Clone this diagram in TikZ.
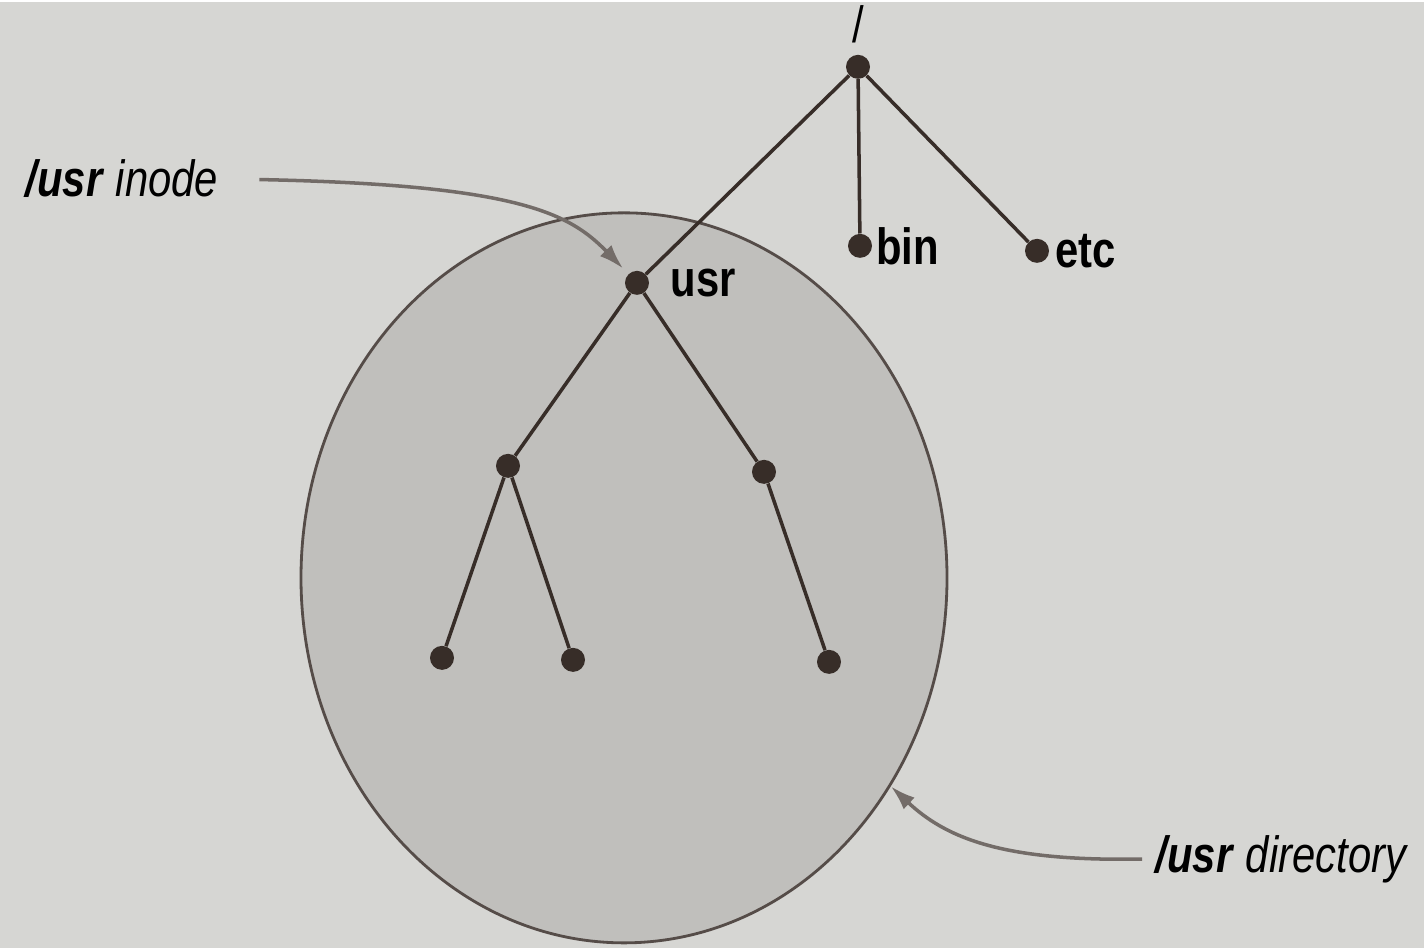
\documentclass[tikz,border=0pt]{standalone}
\usepackage{fontspec}
\setmainfont{Liberation Sans}[FakeStretch=0.82]
\usetikzlibrary{arrows.meta, shapes}
\definecolor{papier}{RGB}{214,214,211}
\definecolor{blase}{RGB}{192,191,188}
\definecolor{linie}{RGB}{55,45,40}

\begin{document}
\begin{tikzpicture}[x=0.2mm, y=-0.2mm,
			punkt/.style={circle, fill=linie, inner sep=0pt, minimum size=4.8mm},
			kante/.style={draw=linie, line width=2pt},
			zeiger/.style={draw=linie!70, line width=2pt, ->},
			>={Latex[length=5mm, width=3.2mm]},   %Pfeilspitzen
			font=\fontsize{29}{32}\selectfont]
			%Hintergrund
			\fill[papier] (0,0) rectangle (1424,946);
			%Verzeichnis als Blase
			\node[ellipse, draw=linie!85, line width=1.6pt, fill=blase, minimum width=129.2mm, minimum height=146mm, inner sep=0pt] (blase) at (624,576) {};
			%Knoten zeichnen
			\node[punkt, label={[label distance=1mm]above:/}] (root) at (858,65) {};
			\node[punkt, label={[label distance=-0.5mm]right:\textbf{bin}}] (bin) at (860,244) {};
			\node[punkt, label={[label distance=0mm]right:\textbf{etc}}] (etc) at (1037,249) {};
			\node[punkt, label={[label distance=3mm]right:\textbf{usr}}] (usr) at (637,281) {};
			\node[punkt] (a) at (508,464) {};
			\node[punkt] (b) at (764,470) {};
			\node[punkt] (a1) at (442,656) {};
			\node[punkt] (a2) at (573,658) {};
			\node[punkt] (b1) at (829,660) {};
			%Kanten
			\draw[kante] (root) -- (usr);
			\draw[kante] (root) -- (bin);
			\draw[kante] (root) -- (etc);
			\draw[kante] (usr) -- (a);
			\draw[kante] (usr) -- (b);
			\draw[kante] (a) -- (a1);
			\draw[kante] (a) -- (a2);
			\draw[kante] (b) -- (b1);
			%Beschriftung
			\node (inode) at (122,177) {\textbf{\textit{/usr}} \textit{inode}};
			\node (dir) at (1282,857) {\textbf{\textit{/usr}} \textit{directory}};
			\draw[zeiger, shorten <=7mm, shorten >=1.5mm] (inode.east) .. controls (520,183) and (570,212) .. (usr);
			\draw[zeiger, shorten <=1.5mm] (dir.west) .. controls (1000,860) and (945,835) .. (blase.-38);
		\end{tikzpicture}
\end{document}
